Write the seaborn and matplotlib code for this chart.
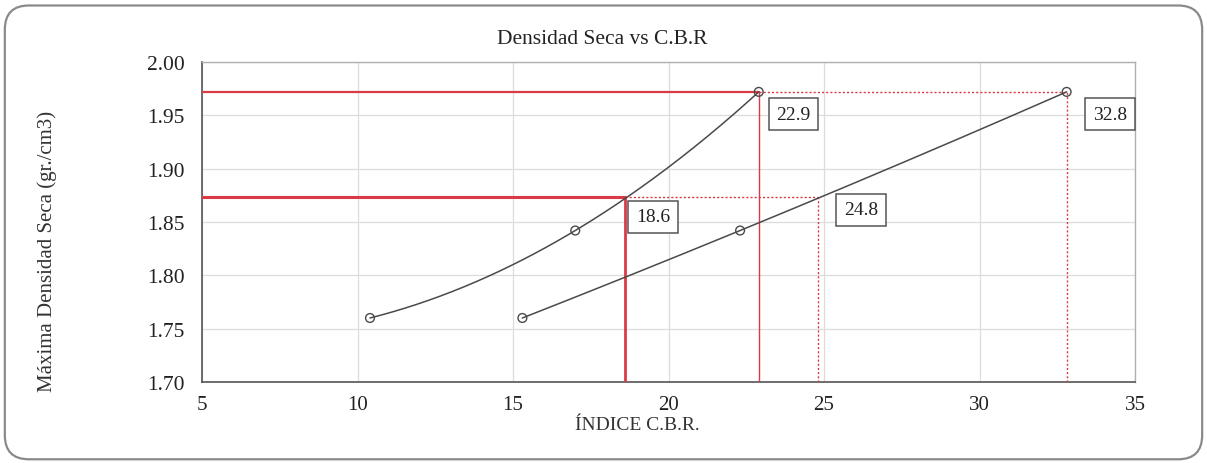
import numpy as np
import pandas as pd
import matplotlib
matplotlib.use("Agg")
import matplotlib.pyplot as plt
import seaborn as sns
from matplotlib.patches import FancyBboxPatch

# ---- data ----
cbr_a = [10.4, 17.0, 22.9]
dens_a = [1.760, 1.842, 1.972]
cbr_b = [15.3, 22.3, 32.8]
dens_b = [1.760, 1.842, 1.972]
dens_hi = 1.972          # 100% MDS
dens_lo = 1.873          # 95% MDS
cbr_lo_a = 18.6
cbr_hi_a = 22.9
cbr_lo_b = 24.8
cbr_hi_b = 32.8
x_ticks = [5, 10, 15, 20, 25, 30, 35]
y_ticks = [1.70, 1.75, 1.80, 1.85, 1.90, 1.95, 2.00]

sns.set_theme(style="whitegrid")
plt.rcParams['font.family'] = ['Liberation Serif', 'DejaVu Serif']

fig = plt.figure(figsize=(12.07, 4.64), dpi=100)
ax = fig.add_axes([0.1674, 0.1746, 0.7730, 0.6896])

red = '#d93a45'
dark = '#4a4a4a'

# smooth display curves (Excel-style smoothing through the three points)
def smooth(xs, ys):
    c = np.polyfit(xs, ys, 2)
    xx = np.linspace(xs[0], xs[-1], 200)
    return xx, np.polyval(c, xx)

for xs, ys in [(cbr_a, dens_a), (cbr_b, dens_b)]:
    xx, yy = smooth(xs, ys)
    sns.lineplot(x=xx, y=yy, ax=ax, color=dark, lw=1.1, sort=False, zorder=4)
    sns.scatterplot(x=xs, y=ys, ax=ax, marker='o', s=40, facecolor='none',
                    edgecolor=dark, linewidth=1.0, zorder=5)

x0 = 5
y0 = 1.70
dot = (0, (1.5, 1.5))
# horizontal reference lines
ax.plot([x0, cbr_hi_a], [dens_hi, dens_hi], color=red, lw=1.6, zorder=3)
ax.plot([cbr_hi_a, cbr_hi_b], [dens_hi, dens_hi], color=red, lw=1.0, ls=dot, zorder=3)
ax.plot([x0, cbr_lo_a], [dens_lo, dens_lo], color=red, lw=2.2, zorder=3)
ax.plot([cbr_lo_a, cbr_lo_b], [dens_lo, dens_lo], color=red, lw=1.0, ls=dot, zorder=3)
# vertical reference lines
ax.plot([cbr_lo_a, cbr_lo_a], [y0, dens_lo], color=red, lw=2.0, zorder=3)
ax.plot([cbr_hi_a, cbr_hi_a], [y0, dens_hi], color=red, lw=1.0, zorder=3)
ax.plot([cbr_lo_b, cbr_lo_b], [y0, dens_lo], color=red, lw=1.0, ls=dot, zorder=3)
ax.plot([cbr_hi_b, cbr_hi_b], [y0, dens_hi], color=red, lw=1.0, ls=dot, zorder=3)

# value labels
box = dict(boxstyle='square,pad=0.4', fc='white', ec='#555555', lw=1.1)
for (xv, yv, off) in [(cbr_hi_a, dens_hi, (25, -16)), (cbr_lo_a, dens_lo, (20, -14)),
                      (cbr_lo_b, dens_lo, (31, -9)), (cbr_hi_b, dens_hi, (31, -16))]:
    ax.annotate(f"{xv:.1f}", (xv, yv), xytext=off, textcoords='offset points',
                ha='center', va='center', fontsize=14, color='#222222', bbox=box, zorder=6)

ax.set_xlim(5, 35)
ax.set_ylim(1.70, 2.00)
ax.set_xticks(x_ticks)
ax.set_yticks(y_ticks)
ax.set_xticklabels([str(t) for t in x_ticks], fontsize=15)
ax.set_yticklabels([f"{t:.2f}" for t in y_ticks], fontsize=15.5)
ax.tick_params(axis='both', direction='inout', length=7, width=1, color='#555555',
               labelcolor='#222222')
ax.tick_params(axis='x', pad=6)
ax.tick_params(axis='y', pad=9)
ax.grid(True, color='#dcdcdc', lw=0.9)
for s in ['left', 'bottom']:
    ax.spines[s].set_color('#555555'); ax.spines[s].set_linewidth(1.2)
for s in ['top', 'right']:
    ax.spines[s].set_color('#b0b0b0'); ax.spines[s].set_linewidth(1.0)
ax.set_xlabel('')
ax.set_ylabel('')

fig.text(0.499, 0.914, 'Densidad Seca vs C.B.R', ha='center', va='center', fontsize=15.5, color='#222222')
fig.text(0.039, 0.459, 'Máxima Densidad Seca (gr./cm3)', ha='center', va='center', rotation=90,
         fontsize=15, color='#333333')
fig.text(0.528, 0.082, 'ÍNDICE C.B.R.', ha='center', va='center', fontsize=14, color='#333333')

frame = FancyBboxPatch((0.004, 0.008), 0.992, 0.978, boxstyle='round,pad=0,rounding_size=0.02',
                       transform=fig.transFigure, fc='none', ec='#8a8a8a', lw=1.6,
                       mutation_aspect=1207/464)
fig.patches.append(frame)

fig.savefig('out.png', dpi=100)
